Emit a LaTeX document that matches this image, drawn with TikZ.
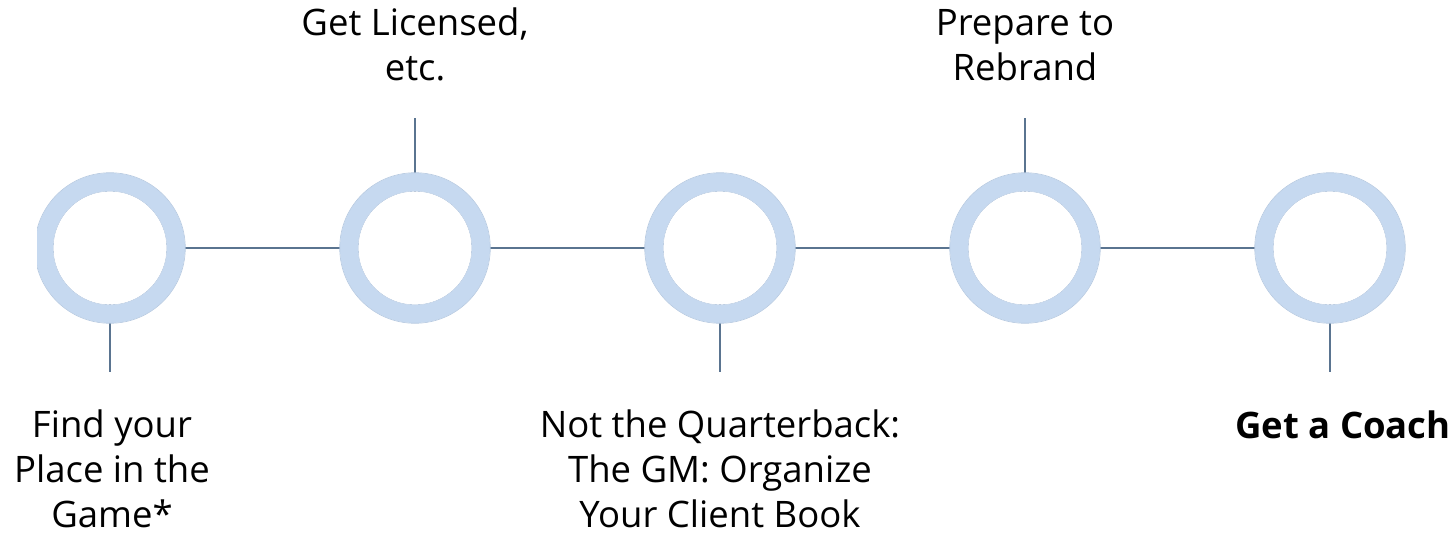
\documentclass[tikz,border=0pt]{standalone}
\usepackage{fontspec}
\setmainfont{Open Sans}
\usetikzlibrary{backgrounds}
\definecolor{ringblue}{HTML}{C6D9F0}
\definecolor{ringedge}{HTML}{B4C8E0}
\definecolor{linkgray}{HTML}{5A7490}
\begin{document}
\begin{tikzpicture}[x=1pt,y=-1pt,
  ring/.style={circle,inner sep=0pt,minimum size=132pt,draw=ringblue,line width=18pt},
  link/.style={draw=linkgray,line width=2.2pt},
  caption/.style={align=center,inner sep=0pt,anchor=base,font=\fontsize{36.5}{45}\selectfont}]
  \useasboundingbox (0,0) rectangle (1456,533);
  % milestone rings
  \begin{scope}
    \clip (37,0) rectangle (1456,533);
    \node[ring] (c1) at (110,248) {};
  \end{scope}
  \node[ring] (c2) at (415,248) {};
  \node[ring] (c3) at (720,248) {};
  \node[ring] (c4) at (1025,248) {};
  \node[ring] (c5) at (1330,248) {};
  % ring rims
  \foreach \c in {c1,c2,c3,c4,c5}{
    \begin{scope}
      \clip (37,0) rectangle (1456,533);
      \draw[ringedge,line width=0.6pt] (\c) circle[radius=75.3pt];
      \draw[ringedge,line width=0.6pt] (\c) circle[radius=56.7pt];
    \end{scope}
  }
  % stub ends
  \coordinate (s1) at (110,372);
  \coordinate (s2) at (415,118);
  \coordinate (s3) at (720,372);
  \coordinate (s4) at (1025,118);
  \coordinate (s5) at (1330,372);
  \begin{scope}[on background layer]
    \draw[link] (c1) -- (c2);
    \draw[link] (c2) -- (c3);
    \draw[link] (c3) -- (c4);
    \draw[link] (c4) -- (c5);
    \draw[link] (c1.center) -- (s1);
    \draw[link] (c2.center) -- (s2);
    \draw[link] (c3.center) -- (s3);
    \draw[link] (c4.center) -- (s4);
    \draw[link] (c5.center) -- (s5);
  \end{scope}
  % white inner discs hide the stubs inside the rings
  \foreach \c in {c1,c2,c3,c4,c5}{
    \begin{scope}
      \clip (37,0) rectangle (1456,533);
      \fill[white] (\c) circle[radius=56.4pt];
    \end{scope}
  }
  % captions (anchored at the baseline of their last line)
  \node[caption] (t1) at (112,527) {Find your\\Place in the\\Game*};
  \node[caption] (t2) at (415,80) {Get Licensed,\\etc.};
  \node[caption] (t3) at (720,527) {Not the Quarterback:\\The GM: Organize\\Your Client Book};
  \node[caption] (t4) at (1025,80) {Prepare to\\Rebrand};
  \node[caption,font=\fontsize{36.5}{45}\selectfont\bfseries] (t5) at (1343,438) {Get a Coach};
\end{tikzpicture}
\end{document}
